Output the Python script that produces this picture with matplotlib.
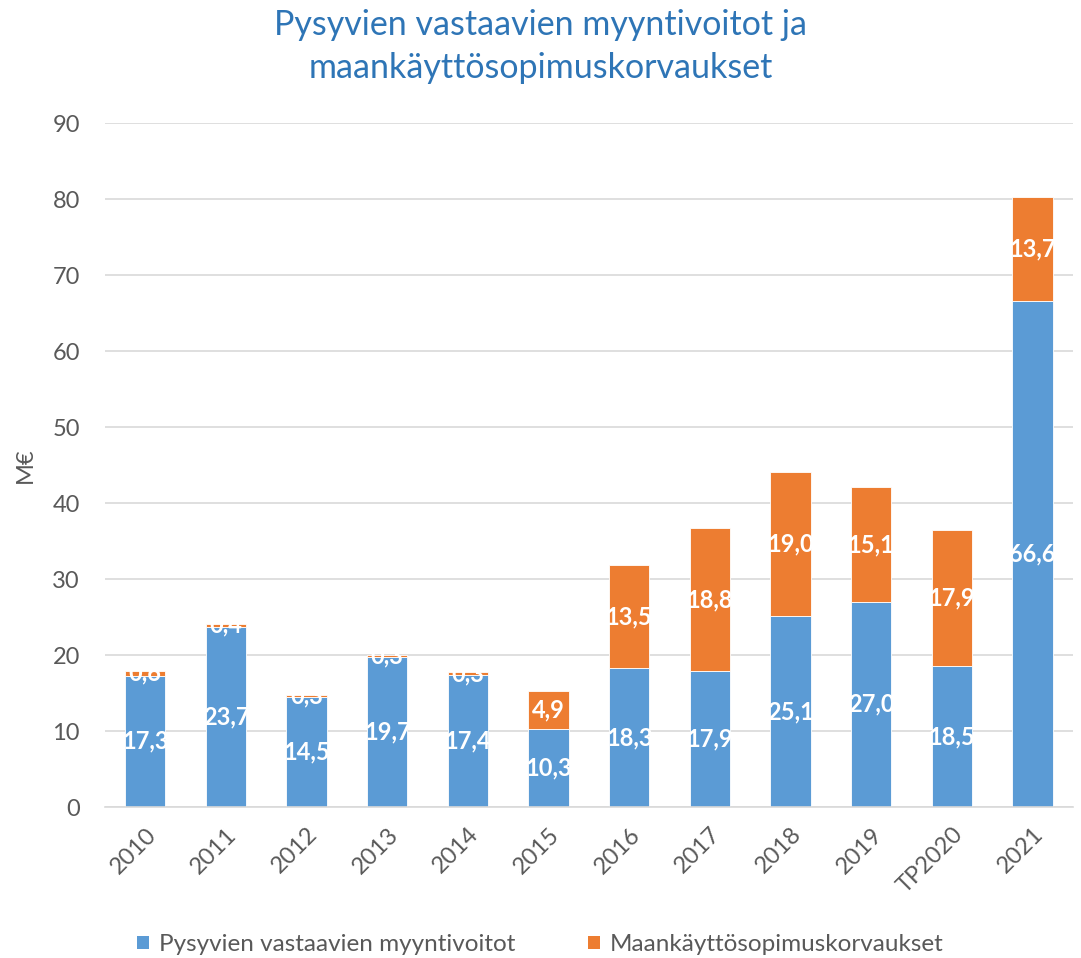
import matplotlib
matplotlib.use("Agg")
import matplotlib.pyplot as plt
from matplotlib.patches import Patch

categories = ["2010", "2011", "2012", "2013", "2014", "2015", "2016", "2017",
              "2018", "2019", "TP2020", "2021"]
myyntivoitot = [17.3, 23.7, 14.5, 19.7, 17.4, 10.3, 18.3, 17.9, 25.1, 27.0, 18.5, 66.6]
korvaukset = [0.6, 0.4, 0.3, 0.3, 0.3, 4.9, 13.5, 18.8, 19.0, 15.1, 17.9, 13.7]
series_names = ["Pysyvien vastaavien myyntivoitot", "Maankäyttösopimuskorvaukset"]
title = "Pysyvien vastaavien myyntivoitot ja\nmaankäyttösopimuskorvaukset"

BLUE = "#5B9BD5"
ORANGE = "#ED7D31"
GRAY = "#595959"
GRID = "#D9D9D9"

plt.rcParams["font.family"] = ["Lato", "DejaVu Sans"]

fig = plt.figure(figsize=(10.81, 9.58), dpi=100)
ax = fig.add_axes([0.0971, 0.1576, 0.8955, 0.7140])

x = list(range(len(categories)))
b1 = ax.bar(x, myyntivoitot, width=0.5, color=BLUE, edgecolor="white", linewidth=0.6, zorder=2)
b2 = ax.bar(x, korvaukset, width=0.5, bottom=myyntivoitot, color=ORANGE,
            edgecolor="white", linewidth=0.6, zorder=2)

def fmt(v):
    return f"{v:.1f}".replace(".", ",")

for bars, vals, bottoms in ((b1, myyntivoitot, [0]*len(x)), (b2, korvaukset, myyntivoitot)):
    for rect, v, b in zip(bars, vals, bottoms):
        t = ax.text(rect.get_x() + rect.get_width() / 2, b + v / 2, fmt(v),
                    ha="center", va="center", color="white", fontsize=17,
                    fontweight="bold", zorder=3)
        t.set_clip_path(rect)

ax.set_xlim(-0.5, len(x) - 0.5)
ax.set_ylim(0, 90)
ax.set_yticks(range(0, 91, 10))
ax.set_xticks(x)
ax.set_xticklabels(categories, rotation=45, ha="right", rotation_mode="anchor")
ax.tick_params(axis="both", length=0, labelsize=17, labelcolor=GRAY)
ax.tick_params(axis="y", pad=18)
ax.tick_params(axis="x", pad=12)
ax.grid(axis="y", color=GRID, linewidth=1.2, zorder=0)
ax.set_axisbelow(True)
for s in ["top", "right", "left"]:
    ax.spines[s].set_visible(False)
ax.spines["bottom"].set_color(GRID)
ax.spines["bottom"].set_linewidth(1.2)

ax.set_ylabel("M€", fontsize=17, color=GRAY, labelpad=12)

fig.text(0.5, 0.951, title, ha="center", va="center", fontsize=24.5,
         color="#2E75B6", linespacing=1.42)

handles = [Patch(facecolor=BLUE), Patch(facecolor=ORANGE)]
fig.legend(handles, series_names, loc="center", bbox_to_anchor=(0.5, 0.014),
           ncol=2, frameon=False, fontsize=17.5, labelcolor=GRAY,
           handlelength=0.5, handleheight=0.5, handletextpad=0.4, columnspacing=3.0)

fig.savefig("out.png", dpi=100)
